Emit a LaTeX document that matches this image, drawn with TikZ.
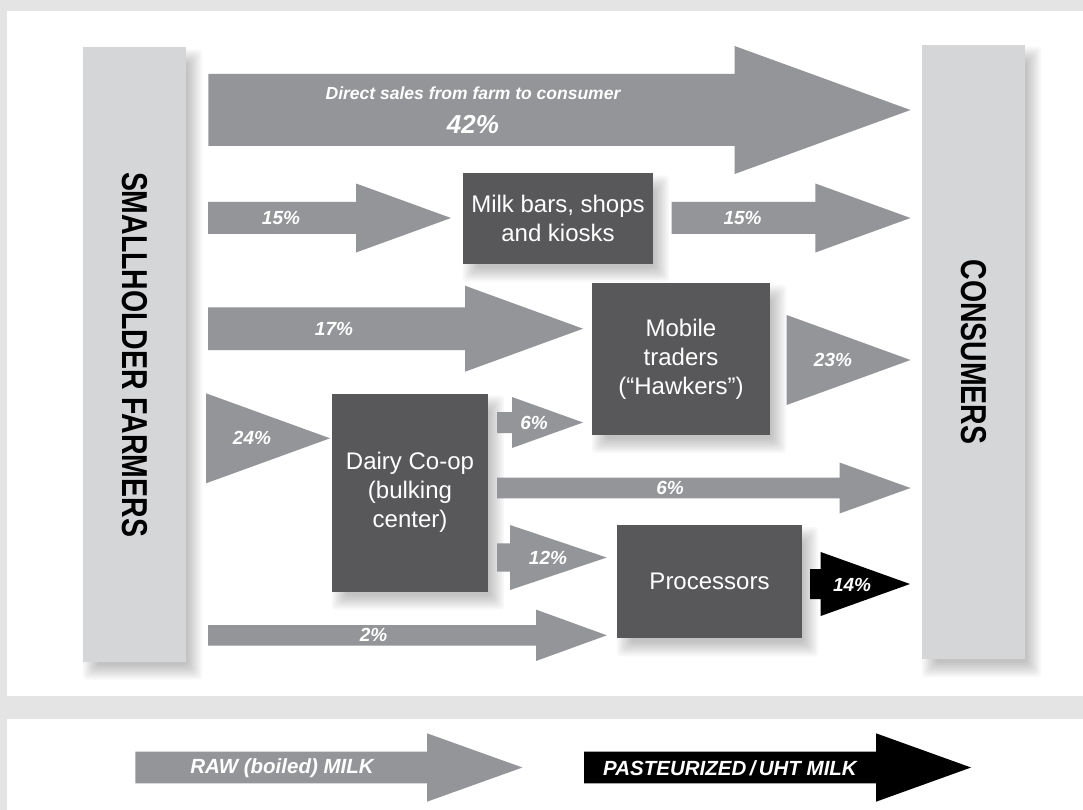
\documentclass[tikz,border=0pt]{standalone}
\usepackage{fontspec}
\usepackage{graphicx}
\setmainfont{Liberation Sans}
\newfontfamily\narrowfont[FakeStretch=0.79]{Liberation Sans}
\usetikzlibrary{calc}

\definecolor{framegray}{HTML}{E3E4E3}
\definecolor{bargray}{HTML}{D5D6D8}
\definecolor{boxgray}{HTML}{58585A}
\definecolor{flowgray}{HTML}{939598}

\pgfdeclarelayer{backdrop}
\pgfdeclarelayer{shade}
\pgfsetlayers{backdrop,shade,main}

\tikzset{
  rawmilk/.style={fill=flowgray},
  uhtmilk/.style={fill=black},
  endbar/.style={fill=bargray, inner sep=0pt,
    font=\narrowfont\bfseries\fontsize{36}{36}\selectfont},
  chainbox/.style={fill=boxgray, text=white, align=center, inner sep=0pt,
    font=\fontsize{24}{29}\selectfont},
  pct/.style={text=white, inner sep=0pt, font=\bfseries\itshape\fontsize{19}{19}\selectfont},
  keytext/.style={text=white, inner sep=0pt, font=\bfseries\itshape\fontsize{20.5}{20.5}\selectfont}
}

% block arrow: start, head base, tip, centre y, half shaft, half head
\newcommand{\flowarrow}[7][rawmilk]{%
  \fill[#1] (#2,#5-#6) -- (#3,#5-#6) -- (#3,#5-#7) -- (#4,#5)
    -- (#3,#5+#7) -- (#3,#5+#6) -- (#2,#5+#6) -- cycle;}

\begin{document}
\begin{tikzpicture}[x=1pt,y=-1pt]
\useasboundingbox (0,0) rectangle (1083,810);
\begin{pgfonlayer}{backdrop}
\fill[framegray] (0,0) rectangle (1083,810);
\fill[white] (7,11) rectangle (1083,696);
\fill[white] (7,719) rectangle (1083,810);
\end{pgfonlayer}

\node[endbar, minimum width=103, minimum height=614] (farmers) at (134.5,354.5)
  {\rotatebox{-90}{SMALLHOLDER FARMERS}};
\node[endbar, minimum width=103, minimum height=614] (consumers) at (973.5,352)
  {\rotatebox{-90}{CONSUMERS}};

\node[chainbox, minimum width=190, minimum height=90] (milkbars) at (558,218.5)
  {Milk bars, shops\\and kiosks};
\node[chainbox, minimum width=178, minimum height=152] (hawkers) at (681,359)
  {Mobile\\traders\\(“Hawkers”)};
\node[chainbox, minimum width=156, minimum height=198] (coop) at (410,492.5)
  {Dairy Co-op\\(bulking\\center)};
\node[chainbox, minimum width=185, minimum height=113] (processors) at (709.5,581.7)
  {Processors};

% soft shadows
\begin{pgfonlayer}{shade}
\foreach \n in {farmers,consumers,milkbars,hawkers,coop,processors}{
  \foreach \e in {-6,-4,...,8}{
    \fill[black, opacity=0.03, rounded corners=4pt]
      ($(\n.north west)+(8-\e,10-\e)$) rectangle ($(\n.south east)+(8+\e,10+\e)$);
  }
}
\end{pgfonlayer}

\flowarrow{208.3}{734.6}{910.5}{110}{36}{64}
\node[pct, font=\bfseries\itshape\fontsize{17.5}{17.5}\selectfont] (direct) at (473,93)
  {Direct sales from farm to consumer};
\node[pct, font=\bfseries\itshape\fontsize{26}{26}\selectfont] (fortytwo) at (473,125) {42\%};

\foreach \xs/\xh/\xt/\yc/\sh/\hh/\lx/\nm/\txt in {
  208/356/451/218/16/34.5/281/fifteenin/15\%,
  671.6/815.3/910.5/218/16/34.5/742.6/fifteenout/15\%,
  208/465/583/328.7/21.3/43/334/seventeen/17\%,
  786.7/786.7/910.5/360/0/45/833/twentythree/23\%,
  206/206/330/438.3/0/45/252/twentyfour/24\%,
  497/512/583/422.5/10.5/25.5/534/sixin/6\%,
  497/839.5/910.5/488/10.3/25.5/670/sixout/6\%,
  497/510/606.7/557.5/14.2/32.5/548/twelve/12\%,
  208/536/606.8/635.3/10.3/25.7/373.6/two/2\%}{
  \flowarrow{\xs}{\xh}{\xt}{\yc}{\sh}{\hh}
  \node[pct] (\nm) at (\lx,\yc) {\txt};
}

\flowarrow[uhtmilk]{810}{820.7}{910}{584}{15}{32}
\node[pct] (fourteen) at (852,585) {14\%};

% legend
\flowarrow{135.3}{427}{522.4}{767.5}{15.8}{34.2}
\node[keytext] (rawkey) at (282,768) {RAW (boiled) MILK};
\flowarrow[uhtmilk]{584}{876}{971}{767.5}{15.8}{34.2}
\node[keytext] (uhtkey) at (730,768) {PASTEURIZED\,/\,UHT MILK};
\end{tikzpicture}
\end{document}
